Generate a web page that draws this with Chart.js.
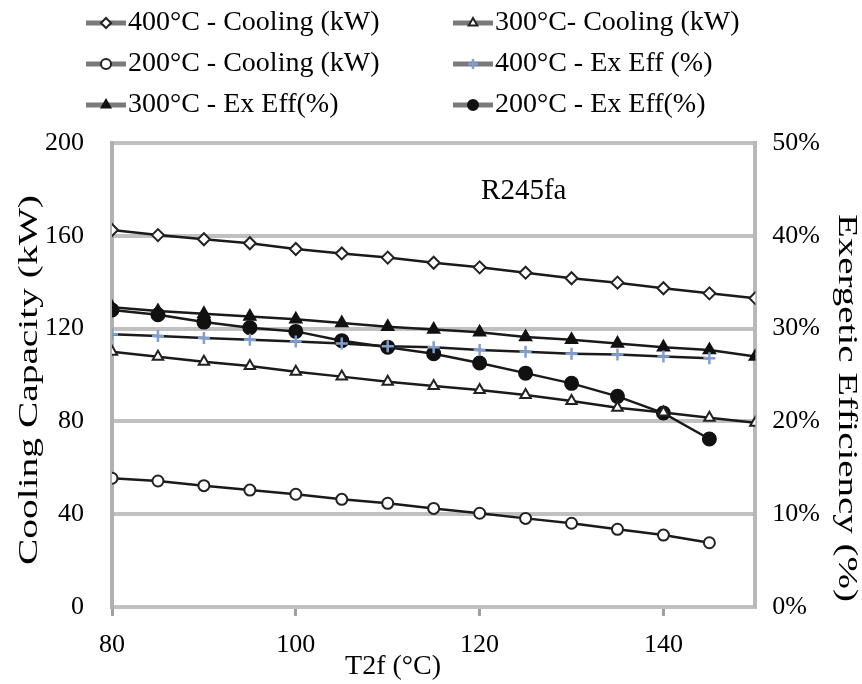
<!DOCTYPE html>
<html>
<head>
<meta charset="utf-8">
<script src="https://cdn.jsdelivr.net/npm/chart.js@4.4.1/dist/chart.umd.min.js"></script>
<style>
  html, body { margin: 0; padding: 0; background: #fff; }
  #wrap { width: 862px; height: 684px; }
</style>
</head>
<body>
<div id="wrap"><canvas id="c" width="862" height="684"></canvas></div>
<script>
// T2f values (°C)
const t2fLong = [80, 85, 90, 95, 100, 105, 110, 115, 120, 125, 130, 135, 140, 145, 150];
const t2fShort = [80, 85, 90, 95, 100, 105, 110, 115, 120, 125, 130, 135, 140, 145];

// cooling capacity (kW)
const cool400 = [162.5, 160.3, 158.5, 156.8, 154.3, 152.4, 150.6, 148.4, 146.4, 144.1, 141.7, 139.8, 137.4, 135.2, 133.1];
const cool300 = [110.0, 107.9, 105.7, 103.9, 101.4, 99.3, 97.1, 95.3, 93.5, 91.4, 88.8, 85.9, 83.8, 81.6, 79.4];
const cool200 = [55.5, 54.3, 52.3, 50.4, 48.6, 46.4, 44.7, 42.5, 40.4, 38.2, 36.1, 33.5, 31.0, 27.7];

// exergetic efficiency (%)
const eff400 = [29.4, 29.2, 29.0, 28.8, 28.6, 28.4, 28.1, 28.0, 27.7, 27.5, 27.3, 27.2, 27.0, 26.8];
const eff300 = [32.3, 31.9, 31.6, 31.3, 31.0, 30.6, 30.2, 29.9, 29.6, 29.1, 28.8, 28.4, 28.0, 27.7, 27.0];
const eff200 = [32.0, 31.5, 30.7, 30.1, 29.7, 28.7, 28.0, 27.3, 26.3, 25.2, 24.1, 22.7, 20.9, 18.1];

const xTicks = [80, 100, 120, 140];
const font = "'Liberation Serif', 'Times New Roman', serif";

const pts = (xs, ys) => ys.map((v, i) => ({ x: xs[i], y: v }));

function series(label, xs, ys, axis, style, fill, edge, r) {
  return {
    label: label,
    data: pts(xs, ys),
    yAxisID: axis,
    borderColor: '#1a1a1a',
    borderWidth: 2.5,
    pointStyle: style,
    pointRadius: r,
    pointBackgroundColor: fill,
    pointBorderColor: edge,
    pointBorderWidth: 2,
    tension: 0
  };
}

const datasets = [
  series('400°C - Cooling (kW)', t2fLong, cool400, 'y', 'rectRot', '#fff', '#222', 6),
  series('300°C- Cooling (kW)', t2fLong, cool300, 'y', 'triangle', '#fff', '#222', 6),
  series('200°C - Cooling (kW)', t2fShort, cool200, 'y', 'circle', '#fff', '#222', 5.5),
  series('400°C - Ex Eff (%)', t2fShort, eff400, 'y2', 'cross', '#7f9fd0', '#7f9fd0', 6),
  series('300°C - Ex Eff(%)', t2fLong, eff300, 'y2', 'triangle', '#111', '#111', 6.5),
  series('200°C - Ex Eff(%)', t2fShort, eff200, 'y2', 'circle', '#111', '#111', 6.5)
];
datasets[3].pointBorderWidth = 2.5;

const legendPlugin = {
  id: 'gridLegend',
  afterDraw(chart) {
    const ctx = chart.ctx;
    const cols = [86, 453];
    const rows = [23, 64, 105];
    ctx.save();
    ctx.font = '28px ' + font;
    ctx.textBaseline = 'middle';
    chart.data.datasets.forEach((ds, i) => {
      const x = cols[i % 2];
      const y = rows[Math.floor(i / 2)];
      ctx.strokeStyle = '#7a7a7a';
      ctx.lineWidth = 5;
      ctx.beginPath();
      ctx.moveTo(x, y);
      ctx.lineTo(x + 40, y);
      ctx.stroke();
      ctx.fillStyle = ds.pointBackgroundColor;
      ctx.strokeStyle = ds.pointBorderColor;
      ctx.lineWidth = ds.pointBorderWidth;
      Chart.helpers.drawPoint(ctx, {
        pointStyle: ds.pointStyle,
        radius: 5,
        borderWidth: ds.pointBorderWidth,
        rotation: 0
      }, x + 20, y);
      ctx.fillStyle = '#000';
      ctx.fillText(ds.label, x + 42, y);
    });
    ctx.restore();
  }
};

// inner title and the axis titles (rotated ones stretched along reading direction)
const textPlugin = {
  id: 'chartTexts',
  afterDraw(chart) {
    const ctx = chart.ctx;
    const a = chart.chartArea;
    ctx.save();
    ctx.fillStyle = '#000';
    ctx.textAlign = 'center';
    ctx.textBaseline = 'middle';
    ctx.font = '29px ' + font;
    ctx.fillText('R245fa', a.left + (a.right - a.left) * 0.64, a.top + 48);
    ctx.font = '28px ' + font;
    ctx.fillText('T2f (°C)', 393, 667);

    const rotated = (text, x, y, angle, len) => {
      ctx.save();
      ctx.font = '28px ' + font;
      ctx.translate(x, y);
      ctx.rotate(angle);
      ctx.scale(len / ctx.measureText(text).width, 1);
      ctx.fillText(text, 0, 0);
      ctx.restore();
    };
    rotated('Cooling Capacity (kW)', 30, 380, -Math.PI / 2, 370);
    rotated('Exergetic Efficiency (%)', 846, 408, Math.PI / 2, 388);
    ctx.restore();
  }
};

new Chart(document.getElementById('c'), {
  type: 'line',
  data: { datasets: datasets },
  options: {
    responsive: false,
    animation: false,
    layout: { padding: { top: 143, left: 17, right: 25, bottom: 3 } },
    plugins: {
      legend: { display: false },
      tooltip: { enabled: false }
    },
    scales: {
      x: {
        type: 'linear',
        min: 80,
        max: 150,
        afterBuildTicks: (axis) => { axis.ticks = xTicks.map(v => ({ value: v })); },
        grid: { drawOnChartArea: false, drawTicks: true, tickLength: 9, color: '#a0a0a0', lineWidth: 3 },
        border: { color: '#c0c0c0', width: 4 },
        ticks: { color: '#000', font: { family: font, size: 26, lineHeight: 1 }, padding: 16, maxRotation: 0 },
        // space holder only, the visible title is drawn by chartTexts
        title: { display: true, text: 'T2f (°C)', color: 'rgba(0,0,0,0)', font: { family: font, size: 27, lineHeight: 1 }, padding: { top: -20, bottom: 0 } }
      },
      y: {
        position: 'left',
        min: 0,
        max: 200,
        ticks: { stepSize: 40, color: '#000', font: { family: font, size: 26 }, padding: 28 },
        grid: { color: '#c0c0c0', lineWidth: 4, drawTicks: false },
        border: { color: '#b0b0b0', width: 4 }
      },
      y2: {
        position: 'right',
        min: 0,
        max: 50,
        ticks: { stepSize: 10, color: '#000', font: { family: font, size: 26 }, padding: 17, callback: v => v + '%' },
        grid: { drawOnChartArea: false, drawTicks: false },
        border: { color: '#b8b8b8', width: 4 }
      }
    }
  },
  plugins: [legendPlugin, textPlugin]
});
</script>
</body>
</html>
